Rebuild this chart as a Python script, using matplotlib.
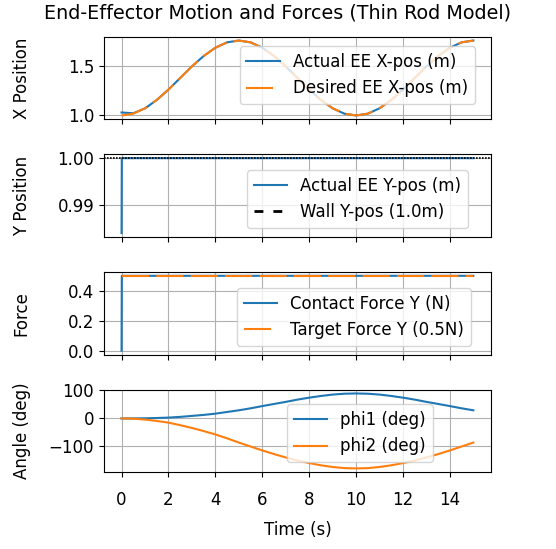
import matplotlib.pyplot as plt
from matplotlib.lines import Line2D

plt.rcParams['font.size'] = 12

# sampled simulation output (0.5 s steps)
t = [0.0, 0.5, 1.0, 1.5, 2.0, 2.5, 3.0, 3.5, 4.0, 4.5, 5.0, 5.5, 6.0, 6.5, 7.0, 7.5,
     8.0, 8.5, 9.0, 9.5, 10.0, 10.5, 11.0, 11.5, 12.0, 12.5, 13.0, 13.5, 14.0, 14.5, 15.0]

x_des = [1.000, 1.018, 1.072, 1.155, 1.259, 1.375, 1.491, 1.595, 1.678, 1.732, 1.750,
         1.732, 1.678, 1.595, 1.491, 1.375, 1.259, 1.155, 1.072, 1.018, 1.000,
         1.018, 1.072, 1.155, 1.259, 1.375, 1.491, 1.595, 1.678, 1.732, 1.750]
x_act = [1.030, 1.022, 1.071, 1.155, 1.259, 1.375, 1.491, 1.595, 1.678, 1.732, 1.750,
         1.732, 1.678, 1.595, 1.491, 1.375, 1.259, 1.155, 1.072, 1.018, 1.000,
         1.018, 1.072, 1.155, 1.259, 1.375, 1.491, 1.595, 1.678, 1.732, 1.750]

phi1 = [0.0, 0.0, 0.5, 1.5, 3.0, 5.5, 9.0, 12.5, 17.0, 23.0, 29.0, 36.0, 44.0, 51.5, 59.0,
        67.0, 74.0, 80.0, 85.0, 88.0, 89.0, 88.0, 85.0, 80.0, 74.0, 67.0, 59.0, 51.5,
        44.0, 36.0, 29.0]
phi2 = [0.0, -1.0, -4.0, -9.0, -15.0, -24.0, -34.0, -45.0, -57.0, -71.0, -86.0, -100.0,
        -114.0, -127.0, -139.0, -150.0, -159.0, -167.0, -173.0, -177.0, -178.0, -177.0,
        -173.0, -167.0, -159.0, -150.0, -139.0, -127.0, -114.0, -100.0, -86.0]

# contact phase: wall reached right after start
t_c = [0.0, 0.01, 15.0]
y_act = [0.984, 1.0, 1.0]
f_contact = [0.0, 0.5, 0.5]

wall_y = 1.0
f_target = 0.5

time_ticks = [0, 2, 4, 6, 8, 10, 12, 14]
force_ticks = [0.0, 0.2, 0.4]

fig, axes = plt.subplots(4, 1, figsize=(5.56, 5.49), dpi=100, sharex=True)
fig.subplots_adjust(left=0.187, right=0.883, top=0.933, bottom=0.140, hspace=0.427)
fig.suptitle('End-Effector Motion and Forces (Thin Rod Model)', fontsize=13.8, y=0.993)

long_dash = (13, 3.5)

ax = axes[0]
ax.plot(t, x_act, label='Actual EE X-pos (m)')
ax.plot(t, x_des, '--', dashes=long_dash, label='Desired EE X-pos (m)')
ax.set_ylabel('X Position')
ax.legend(loc='lower left', bbox_to_anchor=(0.351, 0.183), borderaxespad=0)

ax = axes[1]
ax.plot(t_c, y_act, label='Actual EE Y-pos (m)')
ax.axhline(wall_y, color='k', lw=1.2, linestyle=':', dashes=(1, 0.8))
handles, labels = ax.get_legend_handles_labels()
handles.append(Line2D([], [], color='k', lw=2, linestyle='--', dashes=(3.2, 3.6)))
labels.append('Wall Y-pos (1.0m)')
ax.legend(handles, labels, loc='lower left', bbox_to_anchor=(0.370, 0.108), borderaxespad=0)
ax.set_ylabel('Y Position')

ax = axes[2]
ax.plot(t_c, f_contact, label='Contact Force Y (N)')
ax.plot([t[0], t[-1]], [f_target, f_target], '--', dashes=long_dash,
        label='Target Force Y (0.5N)')
ax.set_yticks(force_ticks)
ax.set_ylabel('Force')
ax.legend(loc='lower left', bbox_to_anchor=(0.344, 0.108), borderaxespad=0)

ax = axes[3]
ax.plot(t, phi1, label='phi1 (deg)')
ax.plot(t, phi2, label='phi2 (deg)')
ax.set_xticks(time_ticks)
ax.set_ylabel('Angle (deg)')
ax.set_xlabel('Time (s)', labelpad=9)
ax.legend(loc='lower left', bbox_to_anchor=(0.473, 0.122), borderaxespad=0)
ax.tick_params(axis='x', pad=10)

for ax in axes:
    ax.grid(True)
    ax.yaxis.set_label_coords(-0.189, 0.5)

plt.savefig('out.png')
